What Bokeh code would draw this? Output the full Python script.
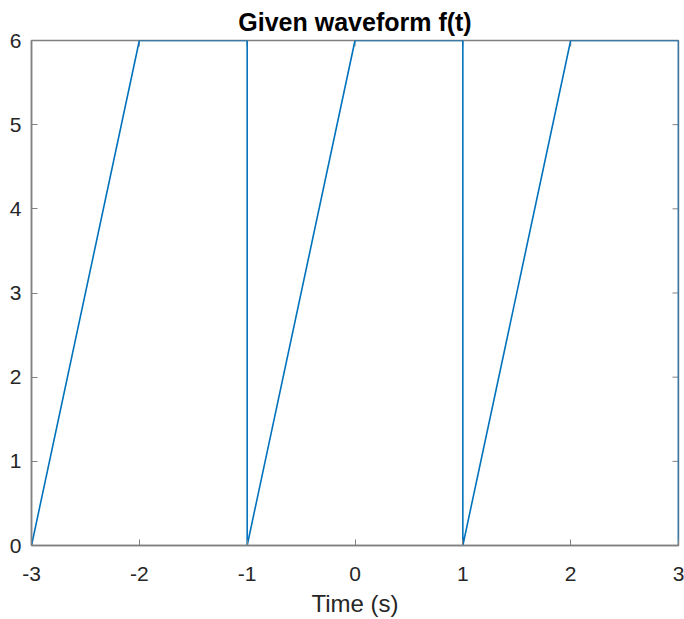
import math
from bokeh.plotting import figure
from bokeh.models import Range1d, FixedTicker, Title
from bokeh.embed import file_html
from bokeh.resources import INLINE

# Waveform vertices (time in s, amplitude)
t_vals = [-3, -2, -1, -1, 0, 1, 1, 2, 3, 3]
f_vals = [0, 6, 6, 0, 6, 6, 0, 6, 6, 0]

x_ticks = [-3, -2, -1, 0, 1, 2, 3]
y_ticks = [0, 1, 2, 3, 4, 5, 6]
x_tick_labels = {v: str(v) for v in x_ticks}
y_tick_labels = {v: str(v) for v in y_ticks}

title_text = "Given waveform f(t)"
x_label = "Time (s)"

FONT = "Liberation Sans"
FRAME = "#808080"
TXT = "#262626"

x_lo, x_hi = x_ticks[0], x_ticks[-1]
y_lo, y_hi = y_ticks[0], y_ticks[-1]

p = figure(width=684, height=619, output_backend="svg", toolbar_location=None,
           x_range=Range1d(x_lo, x_hi), y_range=Range1d(y_lo, y_hi),
           min_border_left=31, min_border_right=6, min_border_top=40, min_border_bottom=74)
p.title = None
p.add_layout(Title(text=title_text, align="center", vertical_align="middle",
                   text_font=FONT, text_font_size="25px", text_font_style="bold",
                   text_color="black", standoff=8), "above")

p.grid.visible = False
p.outline_line_color = FRAME
p.outline_line_width = 1.5
p.background_fill_color = "white"
p.border_fill_color = "white"

for ax, ticks, labels in ((p.xaxis[0], x_ticks, x_tick_labels), (p.yaxis[0], y_ticks, y_tick_labels)):
    ax.ticker = FixedTicker(ticks=ticks)
    ax.major_label_overrides = labels
    ax.minor_tick_line_color = None
    ax.major_tick_in = 6
    ax.major_tick_out = 0
    ax.major_tick_line_color = FRAME
    ax.axis_line_color = FRAME
    ax.axis_line_width = 1.5
    ax.major_label_text_font = FONT
    ax.major_label_text_font_size = "21px"
    ax.major_label_text_color = TXT

p.xaxis[0].major_label_standoff = 21
p.yaxis[0].major_label_standoff = 10
p.xaxis[0].axis_label = x_label
p.xaxis[0].axis_label_text_font = FONT
p.xaxis[0].axis_label_text_font_size = "24px"
p.xaxis[0].axis_label_text_font_style = "normal"
p.xaxis[0].axis_label_text_color = TXT
p.xaxis[0].axis_label_standoff = 6

# mirrored tick marks on top and right edges (MATLAB box style); half of each dash is clipped by the frame
p.scatter(x_ticks, [y_hi] * len(x_ticks), marker="dash", angle=math.pi / 2,
          size=12, line_color=FRAME, line_width=1)
p.scatter([x_hi] * len(y_ticks), y_ticks, marker="dash", angle=0,
          size=12, line_color=FRAME, line_width=1)

p.line(t_vals, f_vals, line_color="#0072BD", line_width=1.6)

open("out.html", "w").write(file_html(p, INLINE))
